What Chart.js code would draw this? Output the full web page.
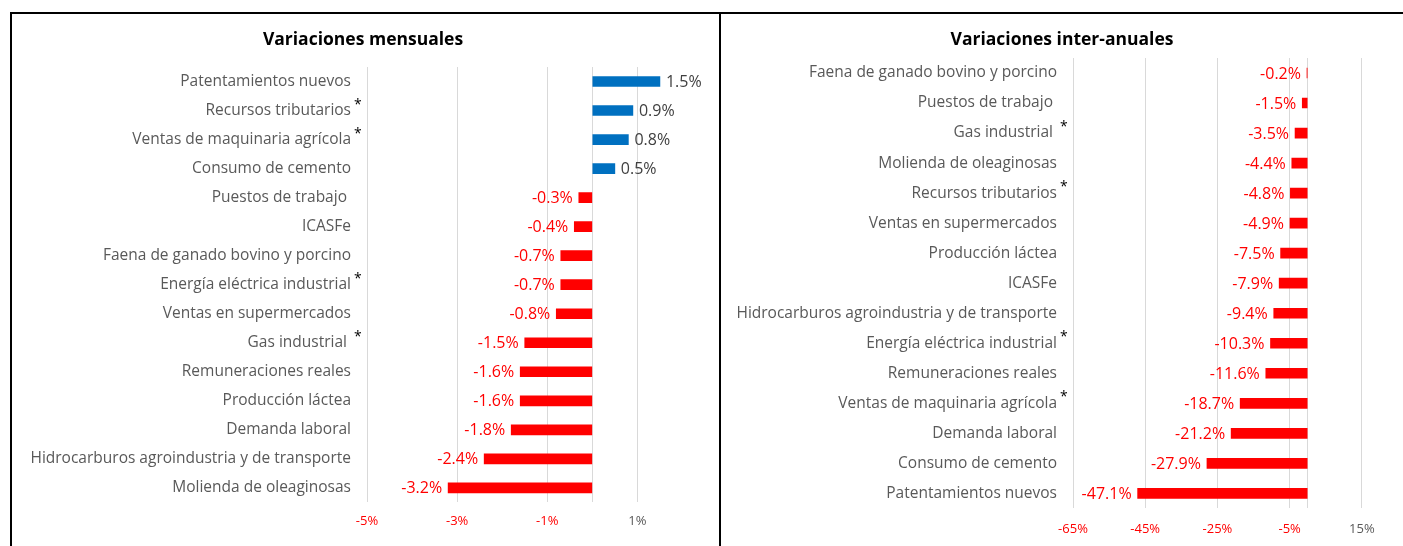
<!DOCTYPE html>
<html>
<head>
<meta charset="utf-8">
<script src="https://cdn.jsdelivr.net/npm/chart.js@4.4.0/dist/chart.umd.min.js"></script>
<style>
  body { margin: 0; background: #fff; width: 1403px; height: 546px; overflow: hidden; position: relative; }
  .ln { position: absolute; background: #000; }
  canvas { position: absolute; }
</style>
</head>
<body>
<div class="ln" style="left:10px;top:12px;width:1393px;height:2px"></div>
<div class="ln" style="left:10px;top:12px;width:2px;height:534px"></div>
<div class="ln" style="left:719px;top:12px;width:2px;height:534px"></div>
<canvas id="mensual" width="707" height="546" style="left:12px;top:14px"></canvas>
<canvas id="interanual" width="682" height="546" style="left:721px;top:14px"></canvas>
<script>
// datos
const mensualLabels = [
  'Patentamientos nuevos', 'Recursos tributarios', 'Ventas de maquinaria agrícola',
  'Consumo de cemento', 'Puestos de trabajo ', 'ICASFe', 'Faena de ganado bovino y porcino',
  'Energía eléctrica industrial', 'Ventas en supermercados', 'Gas industrial ',
  'Remuneraciones reales', 'Producción láctea', 'Demanda laboral',
  'Hidrocarburos agroindustria y de transporte', 'Molienda de oleaginosas'
];
const mensualValues = [1.5, 0.9, 0.8, 0.5, -0.3, -0.4, -0.7, -0.7, -0.8, -1.5, -1.6, -1.6, -1.8, -2.4, -3.2];
const mensualTicks = [-5, -3, -1, 0, 1];

const interanualLabels = [
  'Faena de ganado bovino y porcino', 'Puestos de trabajo ', 'Gas industrial ',
  'Molienda de oleaginosas', 'Recursos tributarios', 'Ventas en supermercados',
  'Producción láctea', 'ICASFe', 'Hidrocarburos agroindustria y de transporte',
  'Energía eléctrica industrial', 'Remuneraciones reales', 'Ventas de maquinaria agrícola',
  'Demanda laboral', 'Consumo de cemento', 'Patentamientos nuevos'
];
const interanualValues = [-0.2, -1.5, -3.5, -4.4, -4.8, -4.9, -7.5, -7.9, -9.4, -10.3, -11.6, -18.7, -21.2, -27.9, -47.1];
const interanualTicks = [-65, -45, -25, -5, 0, 15];

// indicadores marcados con asterisco
const conAsterisco = ['Recursos tributarios', 'Ventas de maquinaria agrícola', 'Energía eléctrica industrial', 'Gas industrial '];

const FONT = '"Open Sans", sans-serif';
const ROJO = '#FF0000';
const AZUL = '#0070C0';
const GRIS = '#595959';

const etiquetas = {
  id: 'etiquetas',
  afterDatasetsDraw(chart) {
    const ctx = chart.ctx;
    const meta = chart.getDatasetMeta(0);
    const values = chart.data.datasets[0].data;
    ctx.save();
    ctx.font = '16px ' + FONT;
    ctx.textBaseline = 'middle';
    meta.data.forEach((bar, i) => {
      let v = values[i];
      if (v >= 0) {
        ctx.fillStyle = '#404040';
        ctx.textAlign = 'left';
        ctx.fillText(v.toFixed(1) + '%', bar.x + 6, bar.y + 1);
      } else {
        ctx.fillStyle = ROJO;
        ctx.textAlign = 'right';
        ctx.fillText(v.toFixed(1) + '%', bar.x - 6, bar.y + 1);
      }
    });
    // asteriscos junto a las categorias
    const y = chart.scales.y;
    const pad = y.options.ticks.padding;
    ctx.fillStyle = '#000';
    ctx.textAlign = 'left';
    ctx.font = '14px ' + FONT;
    chart.data.labels.forEach((lab, i) => {
      if (conAsterisco.includes(lab)) {
        ctx.fillText('*', y.right - pad + 3, y.getPixelForTick(i) - 6);
      }
    });
    ctx.restore();
  }
};

function renderPanel(id, titulo, labels, values, ticks, min, max, anchoEje, pad) {
  new Chart(document.getElementById(id), {
    type: 'bar',
    data: {
      labels: labels,
      datasets: [{
        data: values,
        backgroundColor: values.map(v => v >= 0 ? AZUL : ROJO),
        barThickness: 10
      }]
    },
    options: {
      indexAxis: 'y',
      responsive: false,
      animation: false,
      layout: { padding: pad.layout },
      plugins: {
        legend: { display: false },
        tooltip: { enabled: false },
        title: {
          display: true,
          text: titulo,
          color: '#000',
          font: { family: FONT, size: 17.5, weight: 'bold' },
          padding: pad.title
        }
      },
      scales: {
        x: {
          min: min,
          max: max,
          afterBuildTicks: scale => { scale.ticks = ticks.map(v => ({ value: v })); },
          grid: { color: '#D9D9D9', drawTicks: false },
          border: { display: false },
          ticks: {
            padding: pad.xTicks,
            font: { family: FONT, size: 13 },
            color: c => c.tick.value < 0 ? ROJO : GRIS,
            callback: v => v === 0 ? '' : v + '%'
          }
        },
        y: {
          afterFit: scale => { scale.width = anchoEje; },
          grid: { display: false, drawTicks: false },
          border: { display: false },
          ticks: {
            padding: 16,
            font: { family: FONT, size: 15.5 },
            color: GRIS
          }
        }
      }
    },
    plugins: [etiquetas]
  });
}

renderPanel('mensual', 'Variaciones mensuales', mensualLabels, mensualValues, mensualTicks, -5, 2.7, 355,
  { layout: { top: 0, right: 5, bottom: 20, left: 0 }, title: { top: 15.5, bottom: 16.5 }, xTicks: 11 });
renderPanel('interanual', 'Variaciones inter-anuales', interanualLabels, interanualValues, interanualTicks, -65, 26.4, 352,
  { layout: { top: 0, right: 0, bottom: 10, left: 0 }, title: { top: 15.5, bottom: 7.5 }, xTicks: 13 });
</script>
</body>
</html>
